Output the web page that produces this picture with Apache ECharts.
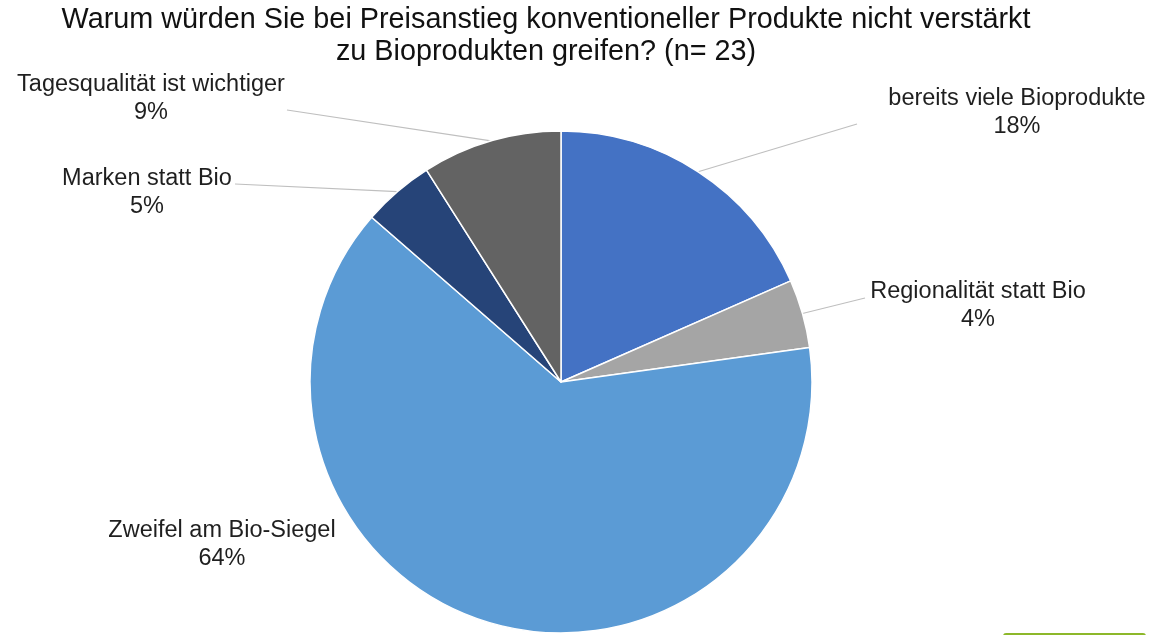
<!DOCTYPE html>
<html>
<head>
<meta charset="utf-8">
<script src="https://cdn.jsdelivr.net/npm/echarts@6/dist/echarts.min.js"></script>
<style>
html,body{margin:0;padding:0;background:#fff;}
#chart{width:1169px;height:635px;}
</style>
</head>
<body>
<div id="chart"></div>
<script>
const titleLines = ['Warum würden Sie bei Preisanstieg konventioneller Produkte nicht verstärkt', 'zu Bioprodukten greifen? (n= 23)'];
const categories = ['bereits viele Bioprodukte', 'Regionalität statt Bio', 'Zweifel am Bio-Siegel', 'Marken statt Bio', 'Tagesqualität ist wichtiger'];
const values = [18.4, 4.4, 63.6, 4.6, 9.0];
const colors = ['#4472C4', '#A5A5A5', '#5B9BD5', '#264478', '#636363'];

// label layout: [centerX, centerY, lineEndX, lineEndY] (null = no leader line)
const labelLayouts = [
  [1017, 113, 857, 124],
  [978, 306, 865, 298],
  [222, 545, null, null],
  [147, 193, 235, 184],
  [151, 99, 287, 110]
];

const chart = echarts.init(document.getElementById('chart'));
const data = categories.map((name, i) => ({
  name: name,
  value: values[i],
  itemStyle: { color: colors[i] },
  labelLine: { show: labelLayouts[i][2] !== null }
}));

chart.setOption({
  animation: false,
  backgroundColor: '#ffffff',
  title: {
    text: titleLines.join('\n'),
    left: 541,
    top: -1,
    textAlign: 'center',
    textStyle: {
      fontFamily: 'Liberation Sans, Arial, sans-serif',
      fontSize: 28.8,
      fontWeight: 'normal',
      color: '#111111',
      lineHeight: 32
    }
  },
  graphic: [{
    type: 'rect',
    shape: { x: 1003, y: 633, width: 143, height: 6, r: 3 },
    style: { fill: '#8DB82A' }
  }],
  series: [{
    type: 'pie',
    center: [561, 382],
    radius: [0, 251],
    startAngle: 90,
    clockwise: true,
    data: data,
    itemStyle: { borderColor: '#ffffff', borderWidth: 1.5 },
    label: {
      show: true,
      formatter: p => p.name + '\n' + Math.round(p.value) + '%',
      fontFamily: 'Liberation Sans, Arial, sans-serif',
      fontSize: 23.5,
      lineHeight: 28,
      color: '#1f1f1f',
      align: 'center'
    },
    labelLine: {
      show: true,
      lineStyle: { color: '#BFBFBF', width: 1.2 }
    },
    labelLayout: function (params) {
      const L = labelLayouts[params.dataIndex];
      const res = { x: L[0], y: L[1], align: 'center', verticalAlign: 'middle' };
      if (L[2] !== null && params.labelLinePoints) {
        res.labelLinePoints = [params.labelLinePoints[0], [L[2], L[3]]];
      }
      return res;
    },
    emphasis: { disabled: true }
  }]
});
</script>
</body>
</html>
